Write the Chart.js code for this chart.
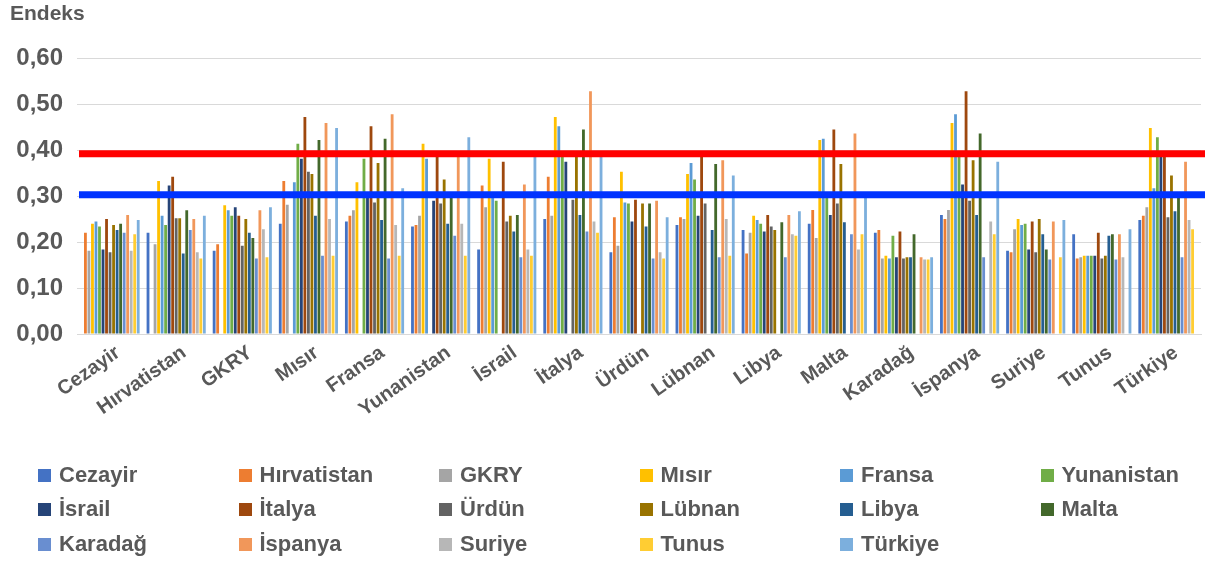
<!DOCTYPE html>
<html><head><meta charset="utf-8">
<script src="https://cdn.jsdelivr.net/npm/chart.js@4/dist/chart.umd.min.js"></script>
<style>
html,body{margin:0;padding:0;background:#fff;}
#wrap{position:relative;width:1210px;height:563px;}
#c{position:absolute;left:0;top:0;}
#legend{position:absolute;left:0;top:0;width:1210px;height:563px;font:bold 22px 'Liberation Sans',Arial,sans-serif;color:#595959;pointer-events:none;}
.item{position:absolute;display:flex;align-items:center;white-space:nowrap;height:24px;}
.box{width:13px;height:13px;margin-right:8px;flex:none;}
</style></head>
<body><div id="wrap"><canvas id="c" width="1210" height="563" style="width:1210px;height:563px"></canvas><div id="legend"></div></div>
<script>
// Categories (countries) — also the series names
const categories = ['Cezayir','Hırvatistan','GKRY','Mısır','Fransa','Yunanistan','İsrail','İtalya','Ürdün','Lübnan','Libya','Malta','Karadağ','İspanya','Suriye','Tunus','Türkiye'];
const yTicks = [0, 0.1, 0.2, 0.3, 0.4, 0.5, 0.6];

// Series values, one value per category (null = the country itself)
const cezayir     = [null, 0.220, 0.181, 0.240, 0.245, 0.234, 0.184, 0.250, 0.178, 0.237, 0.226, 0.240, 0.220, 0.259, 0.181, 0.217, 0.248];
const hirvatistan = [0.220, null, 0.195, 0.333, 0.257, 0.237, 0.323, 0.342, 0.254, 0.254, 0.175, 0.270, 0.226, 0.250, 0.178, 0.164, 0.257];
const gkry        = [0.181, 0.195, null, 0.281, 0.269, 0.257, 0.276, 0.257, 0.192, 0.250, 0.220, 0.209, 0.164, 0.270, 0.228, 0.167, 0.276];
const misir       = [0.240, 0.333, 0.280, null, 0.330, 0.414, 0.381, 0.472, 0.353, 0.348, 0.257, 0.422, 0.170, 0.459, 0.250, 0.170, 0.448];
const fransa      = [0.245, 0.257, 0.269, 0.330, null, 0.381, 0.300, 0.452, 0.286, 0.372, 0.248, 0.425, 0.164, 0.478, 0.237, 0.170, 0.317];
const yunanistan  = [0.234, 0.237, 0.257, 0.414, 0.381, null, 0.290, 0.385, 0.284, 0.336, 0.240, 0.300, 0.214, 0.385, 0.240, 0.170, 0.428];
const israil      = [0.184, 0.323, 0.276, 0.381, 0.300, 0.290, null, 0.375, 0.245, 0.257, 0.223, 0.259, 0.167, 0.325, 0.184, 0.170, 0.385];
const italya      = [0.250, 0.342, 0.257, 0.472, 0.452, 0.390, 0.375, null, 0.292, 0.390, 0.259, 0.445, 0.223, 0.528, 0.245, 0.220, 0.385];
const urdun       = [0.178, 0.252, 0.192, 0.353, 0.286, 0.284, 0.245, 0.292, null, 0.284, 0.234, 0.284, 0.164, 0.290, 0.178, 0.164, 0.254];
const lubnan      = [0.237, 0.252, 0.250, 0.348, 0.372, 0.336, 0.257, 0.390, 0.284, null, 0.226, 0.370, 0.167, 0.378, 0.250, 0.170, 0.345];
const libya       = [0.226, 0.175, 0.220, 0.257, 0.248, 0.240, 0.223, 0.259, 0.234, 0.226, null, 0.243, 0.167, 0.259, 0.217, 0.214, 0.267];
const malta       = [0.240, 0.269, 0.209, 0.422, 0.425, 0.300, 0.259, 0.445, 0.284, 0.370, 0.243, null, 0.217, 0.436, 0.184, 0.217, 0.300];
const karadag     = [0.220, 0.226, 0.164, 0.170, 0.164, 0.214, 0.167, 0.223, 0.164, 0.167, 0.167, 0.217, null, 0.167, 0.162, 0.162, 0.167];
const ispanya     = [0.259, 0.250, 0.269, 0.459, 0.478, 0.390, 0.325, 0.528, 0.290, 0.378, 0.259, 0.436, 0.167, null, 0.245, 0.217, 0.375];
const suriye      = [0.181, 0.178, 0.228, 0.250, 0.237, 0.240, 0.184, 0.245, 0.178, 0.250, 0.217, 0.184, 0.162, 0.245, null, 0.167, 0.248];
const tunus       = [0.217, 0.164, 0.167, 0.170, 0.170, 0.170, 0.170, 0.220, 0.164, 0.170, 0.214, 0.217, 0.162, 0.217, 0.167, null, 0.228];
const turkiye     = [0.248, 0.257, 0.276, 0.448, 0.317, 0.428, 0.385, 0.385, 0.254, 0.345, 0.267, 0.300, 0.167, 0.375, 0.248, 0.228, null];

// Reference lines (values on the y scale)
const redLineValue = 0.392;
const blueLineValue = 0.303;

const seriesValues = [cezayir, hirvatistan, gkry, misir, fransa, yunanistan, israil, italya, urdun, lubnan, libya, malta, karadag, ispanya, suriye, tunus, turkiye];
const seriesColors = ['#4472C4','#ED7D31','#A5A5A5','#FFC000','#5B9BD5','#70AD47','#264478','#9E480E','#636363','#997300','#255E91','#43682B','#698ED0','#F1975A','#B7B7B7','#FFCD33','#7CAFDD'];

const FONT = "'Liberation Sans', Arial, sans-serif";
const TXT = '#595959';

const datasets = seriesValues.map((vals, i) => ({
  label: categories[i], data: vals, backgroundColor: seriesColors[i],
  borderWidth: 0, categoryPercentage: 0.905, barPercentage: 0.8
}));

// Horizontal reference lines drawn through the y scale
const refLines = {
  id: 'refLines',
  afterDatasetsDraw(c) {
    const y = c.scales.y, a = c.chartArea, ctx = c.ctx;
    ctx.save();
    [[blueLineValue, '#0033FF'], [redLineValue, '#FF0000']].forEach(([v, col]) => {
      const py = y.getPixelForValue(v);
      ctx.beginPath();
      ctx.strokeStyle = col;
      ctx.lineWidth = 7;
      ctx.lineCap = 'butt';
      ctx.moveTo(a.left + 2, py);
      ctx.lineTo(a.right + 4, py);
      ctx.stroke();
    });
    ctx.restore();
  }
};

const chart = new Chart(document.getElementById('c'), {
  type: 'bar',
  data: { labels: categories, datasets },
  options: {
    responsive: false, animation: false, devicePixelRatio: 1,
    layout: { padding: { left: 10, right: 9, top: 0, bottom: 129 } },
    plugins: {
      legend: { display: false }, tooltip: { enabled: false },
      title: { display: true, text: 'Endeks', align: 'start', color: TXT,
               font: { family: FONT, size: 21, weight: 'bold' }, padding: { top: 2, bottom: 31 } }
    },
    scales: {
      x: {
        grid: { display: false, drawTicks: false },
        border: { display: true, color: '#D9D9D9', width: 1 },
        ticks: { color: TXT, font: { family: FONT, size: 20, weight: 'bold' }, maxRotation: 35, minRotation: 35, padding: 7, labelOffset: 8, autoSkip: false },
        afterFit: s => { s.height = 100; }
      },
      y: {
        min: 0, max: 0.6,
        grid: { color: '#D9D9D9', drawTicks: false },
        border: { display: false },
        ticks: { stepSize: 0.1, color: TXT, padding: 14, font: { family: FONT, size: 24, weight: 'bold' },
                 callback: v => yTicks.includes(Math.round(v * 10) / 10) ? v.toFixed(2).replace('.', ',') : '' },
        afterFit: s => { s.width = 67; }
      }
    }
  },
  plugins: [refLines]
});

// Legend built from the chart's datasets
const legendEl = document.getElementById('legend');
const rowsY = [463, 497, 532];
const colX = [38, 238.5, 439, 639.5, 840, 1040.5];
chart.data.datasets.forEach((d, i) => {
  const el = document.createElement('div');
  el.className = 'item';
  el.style.left = colX[i % 6] + 'px';
  el.style.top = rowsY[Math.floor(i / 6)] + 'px';
  el.innerHTML = '<span class="box" style="background:' + d.backgroundColor + '"></span><span>' + d.label + '</span>';
  legendEl.appendChild(el);
});
</script>
</body></html>
